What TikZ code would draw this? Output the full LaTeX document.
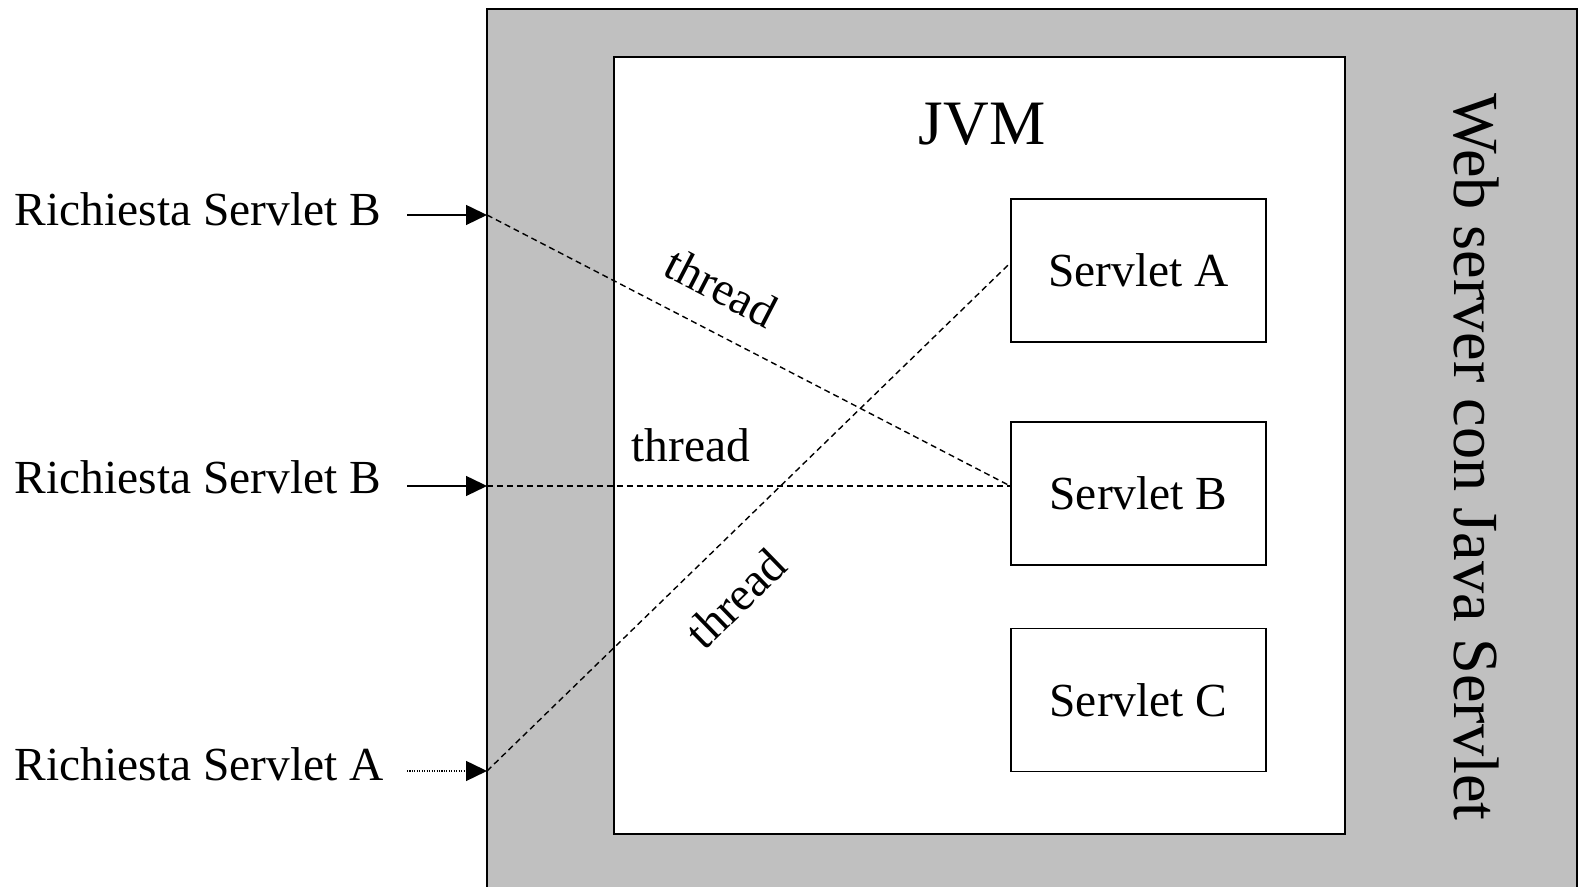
\documentclass[tikz,border=0pt]{standalone}
\usepackage{fontspec}
\setmainfont{Liberation Serif}
\usetikzlibrary{arrows.meta}
\definecolor{srvgray}{RGB}{192,192,192}

\begin{document}
\begin{tikzpicture}[
    box/.style={draw, line width=0.45pt, fill=white},
    servlet/.style={box, minimum width=2.55cm, minimum height=1.43cm, font=\fontsize{13.5}{16}\selectfont},
    req/.style={inner sep=0pt, anchor=base west, font=\fontsize{13.5}{16}\selectfont},
    lbl/.style={inner sep=0pt, font=\fontsize{13.5}{16}\selectfont},
    big/.style={inner sep=0pt, font=\fontsize{18}{22}\selectfont},
    call/.style={line width=0.4pt, -{Triangle[length=0.21cm,width=0.2cm]}},
    thr/.style={line width=0.4pt, dash pattern=on 0.06cm off 0.04cm}
]
\useasboundingbox (0,0) rectangle (15.79,8.87);

% web server and JVM
\fill[srvgray] (4.87,0) rectangle (15.77,8.78);
\draw[line width=0.6pt] (4.87,0) -- (4.87,8.78) -- (15.77,8.78) -- (15.77,0);
\draw[box] (6.14,0.53) rectangle (13.45,8.30);
\node[big, anchor=base] (jvm) at (9.82,7.42) {JVM};
\node[big, font=\fontsize{18.3}{22}\selectfont, rotate=-90, anchor=base] (web) at (14.54,4.30) {Web server con Java Servlet};

% servlets
\node[servlet] (sa) at (11.385,6.165) {Servlet A};
\node[servlet] (sb) at (11.385,3.935) {Servlet B};
\node[servlet] (sc) at (11.385,1.87) {Servlet C};

% requests
\node[req] (rq1) at (0.14,6.61) {Richiesta Servlet B};
\node[req] (rq2) at (0.14,3.93) {Richiesta Servlet B};
\node[req] (rq3) at (0.14,1.06) {Richiesta Servlet A};

\coordinate (s1) at (4.07,6.72);
\coordinate (s2) at (4.07,4.01);
\coordinate (s3) at (4.07,1.16);
\coordinate (in1) at (4.87,6.72);
\coordinate (in2) at (4.87,4.01);
\coordinate (in3) at (4.87,1.16);

\draw[call] (s1) -- (in1);
\draw[call] (s2) -- (in2);
\draw[call, dash pattern=on 0.3pt off 0.4pt] (s3) -- (in3);

% threads
\draw[thr] (in1) -- node[lbl, sloped, above=0.26cm, pos=0.41] {thread} ([yshift=0.075cm]sb.west);
\draw[thr] (in2) -- node[lbl, above=0.23cm, pos=0.39] {thread} ([yshift=0.075cm]sb.west);
\draw[thr] (in3) -- node[lbl, sloped, below=0.32cm, pos=0.41] {thread} ([yshift=0.075cm]sa.west);
\end{tikzpicture}
\end{document}
